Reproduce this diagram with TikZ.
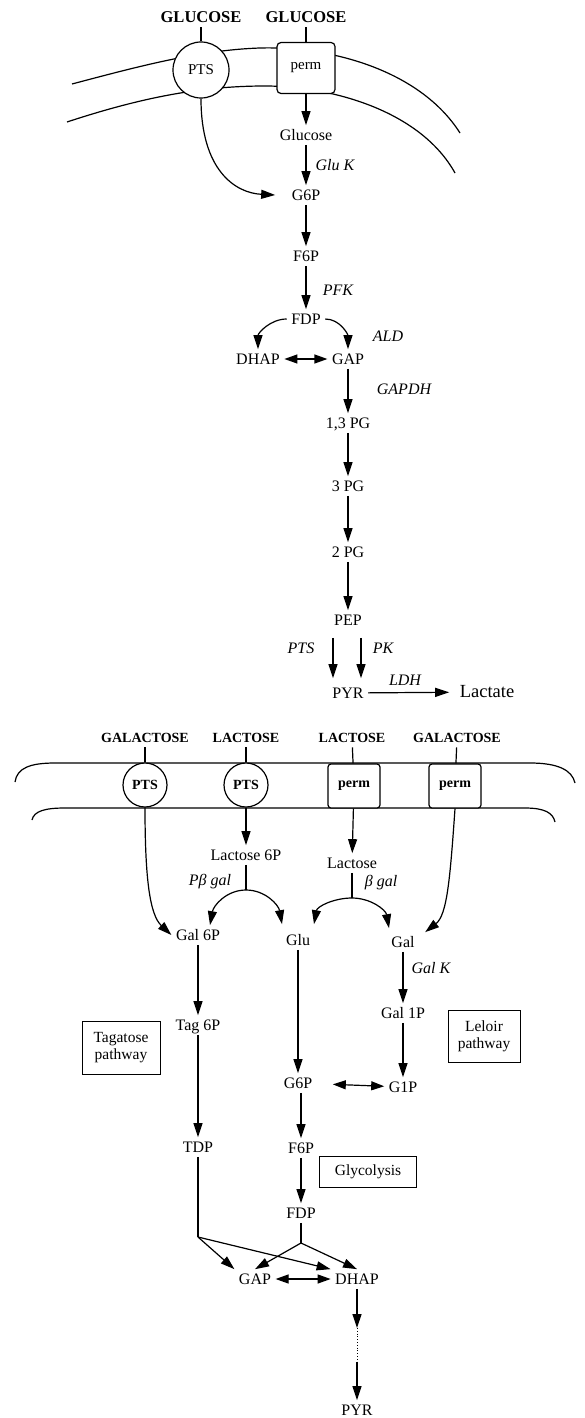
\documentclass[tikz,border=0pt]{standalone}
\usepackage{fontspec}
\setmainfont{Liberation Serif}
\usetikzlibrary{arrows.meta, positioning, calc}

\tikzset{
  met/.style={font=\fontsize{16}{18}\selectfont, inner sep=4pt, text height=10.5pt, text depth=0pt},
  enz/.style={font=\fontsize{16}{18}\selectfont\itshape, inner sep=1pt},
  sugar/.style={font=\fontsize{14}{16}\selectfont\bfseries, inner sep=4pt, text height=9.5pt, text depth=0pt},
  arr/.style={-{Triangle[length=14pt,width=9pt]}},
  dbl/.style={{Triangle[length=13pt,width=9pt]}-{Triangle[length=13pt,width=9pt]}},
  pathbox/.style={draw, line width=1pt, font=\fontsize{15.5}{17}\selectfont, align=center, inner sep=0pt}
}

\begin{document}
\begin{tikzpicture}[x=1pt, y=-1pt, line width=1.2pt]
  \useasboundingbox (0,0) rectangle (585,1418);
  % Top cell: membrane
  \draw (72,84) .. controls (140,66) and (200,50) .. (260,48) .. controls (330,46) and (420,70) .. (460,133);
  \draw (67,122) .. controls (140,98) and (200,86) .. (265,86) .. controls (330,86) and (420,110) .. (455,173);
  % Transporters
  \node[draw, circle, fill=white, minimum size=56pt, inner sep=0pt, font=\fontsize{15}{16}\selectfont] (ptsT) at (201,70) {PTS};
  \node[draw, rounded corners=4pt, fill=white, minimum width=58pt, minimum height=51pt, font=\fontsize{15}{16}\selectfont] (permT) at (306,68) {perm};
  \node[sugar, font=\fontsize{16.5}{18}\selectfont\bfseries] (glcL) at (201,18) {GLUCOSE};
  \node[sugar, font=\fontsize{16.5}{18}\selectfont\bfseries] (glcR) at (306,18) {GLUCOSE};
  \draw (glcL) -- (ptsT);
  \draw (glcR) -- (permT);
  % Glycolysis
  \node[met] (glucose) at (306,135) {Glucose};
  \node[met] (g6pT) at (306,195) {G6P};
  \node[met] (f6pT) at (306,256) {F6P};
  \node[met] (fdpT) at (306,319) {FDP};
  \node[met] (dhapT) at (258,359) {DHAP};
  \node[met] (gapT) at (348,359) {GAP};
  \node[met] (pg13) at (348,423) {1,3 PG};
  \node[met] (pg3) at (348,486) {3 PG};
  \node[met] (pg2) at (348,552) {2 PG};
  \node[met] (pep) at (348,620) {PEP};
  \node[met] (pyrT) at (348,693) {PYR};
  \node[met, font=\fontsize{18.5}{20}\selectfont] (lactate) at (487,692) {Lactate};
  % Enzymes
  \node[enz, anchor=west] (gluk) at (314,165) {Glu K};
  \node[enz] (pfk) at (338,290) {PFK};
  \node[enz] (ald) at (388,336) {ALD};
  \node[enz] (gapdh) at (404,389) {GAPDH};
  \node[enz] (ptsE) at (301,648) {PTS};
  \node[enz] (pk) at (383,648) {PK};
  \node[enz] (ldh) at (405,680) {LDH};
  % Arrows
  \draw[arr] (permT) -- (glucose);
  \draw[arr] (glucose) -- (g6pT);
  \draw[arr] (ptsT.south) .. controls (201,170) and (235,193) .. ([xshift=-12pt]g6pT.west);
  \draw[arr] (g6pT) -- (f6pT);
  \draw[arr] (f6pT) -- (fdpT);
  \draw[arr] (fdpT.west) to[out=180, in=90] (dhapT.north);
  \draw[arr] (fdpT.east) to[out=0, in=90] (gapT.north);
  \draw[dbl] (dhapT) -- (gapT);
  \draw[arr] (gapT) -- (pg13);
  \draw[arr] (pg13) -- (pg3);
  \draw[arr] (pg3) -- (pg2);
  \draw[arr] (pg2) -- (pep);
  \draw[arr, shorten <=8pt, shorten >=5pt] ([xshift=-15pt]pep.south) -- ([xshift=-15pt]pyrT.north);
  \draw[arr, shorten <=8pt, shorten >=5pt] ([xshift=13pt]pep.south) -- ([xshift=13pt]pyrT.north);
  \draw[arr, shorten >=6pt] (pyrT) -- (lactate);

  % Lower cell: membrane
  \draw (15,782) .. controls (17,768) and (30,763) .. (55,763) -- (530,763) .. controls (558,763) and (572,770) .. (575,783);
  \draw (32,820) .. controls (34,811) and (45,808) .. (65,808) -- (525,808) .. controls (545,808) and (553,813) .. (555,822);
  % Transporters
  \node[draw, circle, fill=white, minimum size=44pt, inner sep=0pt, font=\fontsize{14}{16}\selectfont\bfseries] (ptsA) at (145,785) {PTS};
  \node[draw, circle, fill=white, minimum size=44pt, inner sep=0pt, font=\fontsize{14}{16}\selectfont\bfseries] (ptsB) at (246,785) {PTS};
  \node[draw, rounded corners=3pt, fill=white, minimum width=52pt, minimum height=44pt, font=\fontsize{14}{16}\selectfont\bfseries] (permA) at (354,786) {perm};
  \node[draw, rounded corners=3pt, fill=white, minimum width=52pt, minimum height=44pt, font=\fontsize{14}{16}\selectfont\bfseries] (permB) at (455,786) {perm};
  \foreach \n/\x/\t in {galA/145/GALACTOSE, lacA/246/LACTOSE, lacB/352/LACTOSE, galB/457/GALACTOSE}
    \node[sugar] (\n) at (\x,738) {\t};
  \draw (galA) -- (ptsA);
  \draw (lacA) -- (ptsB);
  \draw (lacB) -- (permA);
  \draw (galB) -- (permB);
  % Metabolites
  \node[met] (lac6p) at (246,855) {Lactose 6P};
  \node[met] (lactose) at (352,863) {Lactose};
  \node[met] (gal6p) at (198,935) {Gal 6P};
  \node[met] (glu) at (298,940) {Glu};
  \node[met] (gal) at (403,942) {Gal};
  \node[met] (gal1p) at (403,1013) {Gal 1P};
  \node[met] (tag6p) at (198,1025) {Tag 6P};
  \node[met] (g6pB) at (298,1083) {G6P};
  \node[met] (g1p) at (403,1087) {G1P};
  \node[met] (tdp) at (198,1147) {TDP};
  \node[met] (f6pB) at (301,1148) {F6P};
  \node[met] (fdpB) at (301,1213) {FDP};
  \node[met] (gapB) at (255,1279) {GAP};
  \node[met] (dhapB) at (357,1279) {DHAP};
  \node[met] (pyrB) at (357,1410) {PYR};
  % Enzymes and boxes
  \node[enz] (pbgal) at (210,882) {Pβ gal};
  \node[enz] (bgal) at (381,883) {β gal};
  \node[enz, anchor=west] (galk) at (410,968) {Gal K};
  \node[pathbox, minimum width=78pt, minimum height=53pt] (tagbox) at (121,1048) {Tagatose\\pathway};
  \node[pathbox, minimum width=72pt, minimum height=52pt] (lelbox) at (484,1036) {Leloir\\pathway};
  \node[pathbox, minimum width=97pt, minimum height=31pt] (glybox) at (368,1172) {Glycolysis};
  % Arrows
  \draw[arr] (ptsA.south) .. controls (145,880) and (150,915) .. (gal6p.west);
  \draw[arr] (ptsB) -- (lac6p);
  \draw[arr] (permA) -- (lactose);
  \draw[arr] (permB.south) .. controls (450,880) and (447,915) .. ([xshift=6pt]gal.north east);
  \coordinate (jA) at (246,890);
  \coordinate (jB) at (352,898);
  \draw (lac6p) -- (jA);
  \draw[arr] (jA) to[out=180, in=80] ([xshift=12pt]gal6p.north);
  \draw[arr] (jA) to[out=0, in=100] ([xshift=-16pt, yshift=6pt]glu.north);
  \draw (lactose) -- (jB);
  \draw[arr] (jB) to[out=180, in=80] ([xshift=16pt, yshift=6pt]glu.north);
  \draw[arr] (jB) to[out=0, in=100] ([xshift=-14pt, yshift=4pt]gal.north);
  \draw[arr] (gal) -- (gal1p);
  \draw[arr] (gal1p) -- (g1p);
  \draw[arr] (gal6p) -- (tag6p);
  \draw[arr] (tag6p) -- (tdp);
  \draw[arr] (glu) -- (g6pB);
  \draw[dbl, shorten <=16pt] (g6pB) -- (g1p);
  \draw[arr] ([xshift=3pt]g6pB.south) -- (f6pB);
  \draw[arr] (f6pB) -- (fdpB);
  % Triose phosphates
  \coordinate (jC) at (198,1237);
  \coordinate (jD) at (301,1243);
  \draw (tdp) -- (jC);
  \draw[arr] (jC) -- (gapB.north west);
  \draw[arr] (jC) -- (dhapB.north west);
  \draw (fdpB) -- (jD);
  \draw[arr] (jD) -- (gapB.north);
  \draw[arr] (jD) -- (dhapB.north);
  \draw[dbl] (gapB) -- (dhapB);
  \coordinate (dA) at (357,1328);
  \coordinate (dB) at (357,1362);
  \draw[arr] (dhapB) -- (dA);
  \draw[dotted, line width=0.8pt] (dA) -- (dB);
  \draw[arr] (dB) -- (pyrB);
\end{tikzpicture}
\end{document}
